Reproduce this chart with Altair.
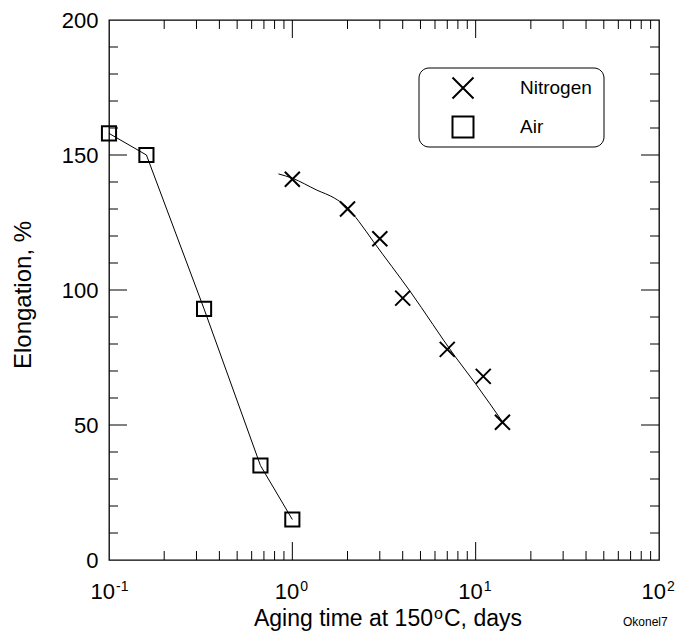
import altair as alt
import pandas as pd

# ---------------- data ----------------
air_time = [0.1, 0.16, 0.33, 0.67, 1.0]
air_elong = [158, 150, 93, 35, 15]

n2_time = [1.0, 2.0, 3.0, 4.0, 7.0, 11.0, 14.0]
n2_elong = [141, 130, 119, 97, 78, 68, 51]

# hand-drawn trend curve through the nitrogen points
n2_fit_time = [0.84, 1.0, 1.36, 1.7, 2.0, 2.3, 2.77, 4.4, 7.74, 9.96, 14.2]
n2_fit_elong = [143, 141.4, 137, 134, 130.5, 125.5, 117.9, 99.4, 75.3, 65.4, 50.6]

series_names = ["Nitrogen", "Air"]

x_major_ticks = [1, 10]
x_minor_ticks = [0.2, 0.3, 0.4, 0.5, 0.6, 0.7, 0.8, 0.9,
                 2, 3, 4, 5, 6, 7, 8, 9,
                 20, 30, 40, 50, 60, 70, 80, 90]
y_major_ticks = [50, 100, 150]
y_minor_ticks = [10, 20, 30, 40, 60, 70, 80, 90, 110, 120, 130, 140,
                 160, 170, 180, 190]
y_tick_labels = [0, 50, 100, 150, 200]
x_decades = [0.1, 1, 10, 100]
x_exponents = ["-1", "0", "1", "2"]

x_title_parts = ["Aging time at 150", "o", "C, days"]
y_title = "Elongation, %"
tag = "Okonel7"

FONT = "Liberation Sans"
W, H = 550, 540

# ---------------- scales ----------------
xs = alt.Scale(type="log", domain=[0.1, 100], nice=False)
ys = alt.Scale(domain=[0, 200], nice=False)
yaxis = alt.Axis(values=y_tick_labels, ticks=False, domain=False, grid=False,
                 labelFontSize=22, labelFont=FONT, labelColor="black",
                 labelPadding=11, title=None)

air_df = pd.DataFrame({"x": air_time, "y": air_elong})
n2_df = pd.DataFrame({"x": n2_time, "y": n2_elong})
n2_fit_df = pd.DataFrame({"x": n2_fit_time, "y": n2_fit_elong})
one = pd.DataFrame({"k": [0]})

X = alt.X("x:Q", scale=xs, axis=None)
Y = alt.Y("y:Q", scale=ys, axis=yaxis)

air_line = alt.Chart(air_df).mark_line(color="black", strokeWidth=1).encode(x=X, y=Y)
air_pts = alt.Chart(air_df).mark_point(shape="square", filled=False, size=200,
                                       strokeWidth=2, color="black", opacity=1).encode(x=X, y=Y)
n2_line = alt.Chart(n2_fit_df).mark_line(color="black", strokeWidth=1,
                                         interpolate="monotone").encode(x=X, y=Y)
XSHAPE = "M-1,-1L1,1M-1,1L1,-1"
n2_pts = alt.Chart(n2_df).mark_point(shape=XSHAPE, filled=False, size=225,
                                     strokeWidth=2, color="black", opacity=1).encode(x=X, y=Y)

# ---------------- inward ticks on all four sides ----------------
def xticks(vals, y0, y1):
    return alt.Chart(pd.DataFrame({"x": vals})).mark_rule(color="black", strokeWidth=1).encode(
        x=X, y=alt.value(y0), y2=alt.value(y1))

def yticks(vals, x0, x1):
    return alt.Chart(pd.DataFrame({"y": vals})).mark_rule(color="black", strokeWidth=1).encode(
        y=Y, x=alt.value(x0), x2=alt.value(x1))

ticks = [
    xticks(x_minor_ticks, H, H - 9), xticks(x_major_ticks, H, H - 18),
    xticks(x_minor_ticks, 0, 9), xticks(x_major_ticks, 0, 18),
    yticks(y_minor_ticks, 0, 9), yticks(y_major_ticks, 0, 18),
    yticks(y_minor_ticks, W, W - 9), yticks(y_major_ticks, W, W - 18),
]

# ---------------- x tick labels 10^n ----------------
dec_df = pd.DataFrame({"x": x_decades, "e": x_exponents})
base_lbl_pos = alt.Chart(dec_df).transform_filter("datum.e != '-1'").transform_calculate(
    b="'10'").mark_text(font=FONT, fontSize=22, align="right", baseline="alphabetic",
                        dx=7, color="black").encode(x=X, y=alt.value(H + 39), text="b:N")
base_lbl_neg = alt.Chart(dec_df).transform_filter("datum.e == '-1'").transform_calculate(
    b="'10'").mark_text(font=FONT, fontSize=22, align="right", baseline="alphabetic",
                        dx=6, color="black").encode(x=X, y=alt.value(H + 39), text="b:N")
exp_lbl_pos = alt.Chart(dec_df).transform_filter("datum.e != '-1'").mark_text(
    font=FONT, fontSize=14, align="left", baseline="alphabetic", dx=8, color="black").encode(
    x=X, y=alt.value(H + 31), text="e:N")
exp_lbl_neg = alt.Chart(dec_df).transform_filter("datum.e == '-1'").mark_text(
    font=FONT, fontSize=14, align="left", baseline="alphabetic", dx=7, color="black").encode(
    x=X, y=alt.value(H + 31), text="e:N")

# ---------------- titles ----------------
title_df = pd.DataFrame({"a": [x_title_parts[0]], "b": [x_title_parts[1]], "c": [x_title_parts[2]],
                         "yt": [y_title], "tag": [tag]})
xt1 = alt.Chart(title_df).mark_text(font=FONT, fontSize=23, align="right",
                                    baseline="alphabetic", color="black").encode(
    x=alt.value(324), y=alt.value(606), text="a:N")
xt2 = alt.Chart(title_df).mark_text(font=FONT, fontSize=16, align="left",
                                    baseline="alphabetic", color="black").encode(
    x=alt.value(325), y=alt.value(599), text="b:N")
xt3 = alt.Chart(title_df).mark_text(font=FONT, fontSize=23, align="left",
                                    baseline="alphabetic", color="black").encode(
    x=alt.value(335), y=alt.value(606), text="c:N")
yt = alt.Chart(title_df).mark_text(font=FONT, fontSize=24, align="center", angle=270,
                                   baseline="middle", color="black").encode(
    x=alt.value(-85), y=alt.value(275), text="yt:N")
tag_t = alt.Chart(title_df).mark_text(font=FONT, fontSize=12, align="left",
                                      baseline="alphabetic", color="black").encode(
    x=alt.value(514), y=alt.value(606), text="tag:N")

# ---------------- legend ----------------
leg_box = alt.Chart(one).mark_rect(fill="white", stroke="black", strokeWidth=1,
                                   cornerRadius=10).encode(
    x=alt.value(310), x2=alt.value(495), y=alt.value(48), y2=alt.value(127))
leg_df = pd.DataFrame({"name": series_names})
leg_x = alt.Chart(leg_df).transform_filter("datum.name == 'Nitrogen'").mark_point(
    shape=XSHAPE, filled=False, size=441, strokeWidth=2, color="black", opacity=1).encode(
    x=alt.value(354), y=alt.value(68))
leg_sq = alt.Chart(leg_df).transform_filter("datum.name == 'Air'").mark_point(
    shape="square", filled=False, size=441, strokeWidth=2, color="black", opacity=1).encode(
    x=alt.value(354), y=alt.value(107))
leg_t1 = alt.Chart(leg_df).transform_filter("datum.name == 'Nitrogen'").mark_text(
    font=FONT, fontSize=19, align="left", baseline="middle", color="black").encode(
    x=alt.value(411), y=alt.value(68), text="name:N")
leg_t2 = alt.Chart(leg_df).transform_filter("datum.name == 'Air'").mark_text(
    font=FONT, fontSize=19, align="left", baseline="middle", color="black").encode(
    x=alt.value(411), y=alt.value(107), text="name:N")

chart = alt.layer(
    *ticks,
    air_line, n2_line, air_pts, n2_pts,
    base_lbl_pos, base_lbl_neg, exp_lbl_pos, exp_lbl_neg,
    xt1, xt2, xt3, yt, tag_t,
    leg_box, leg_x, leg_sq, leg_t1, leg_t2,
).properties(
    width=W, height=H,
    autosize=alt.AutoSizeParams(type="none"),
    padding={"left": 109, "top": 20, "right": 21, "bottom": 81},
    background="white",
).configure_view(stroke="black", strokeWidth=1.3)

chart.save("out.html", embed_options={"renderer": "svg", "actions": False})
